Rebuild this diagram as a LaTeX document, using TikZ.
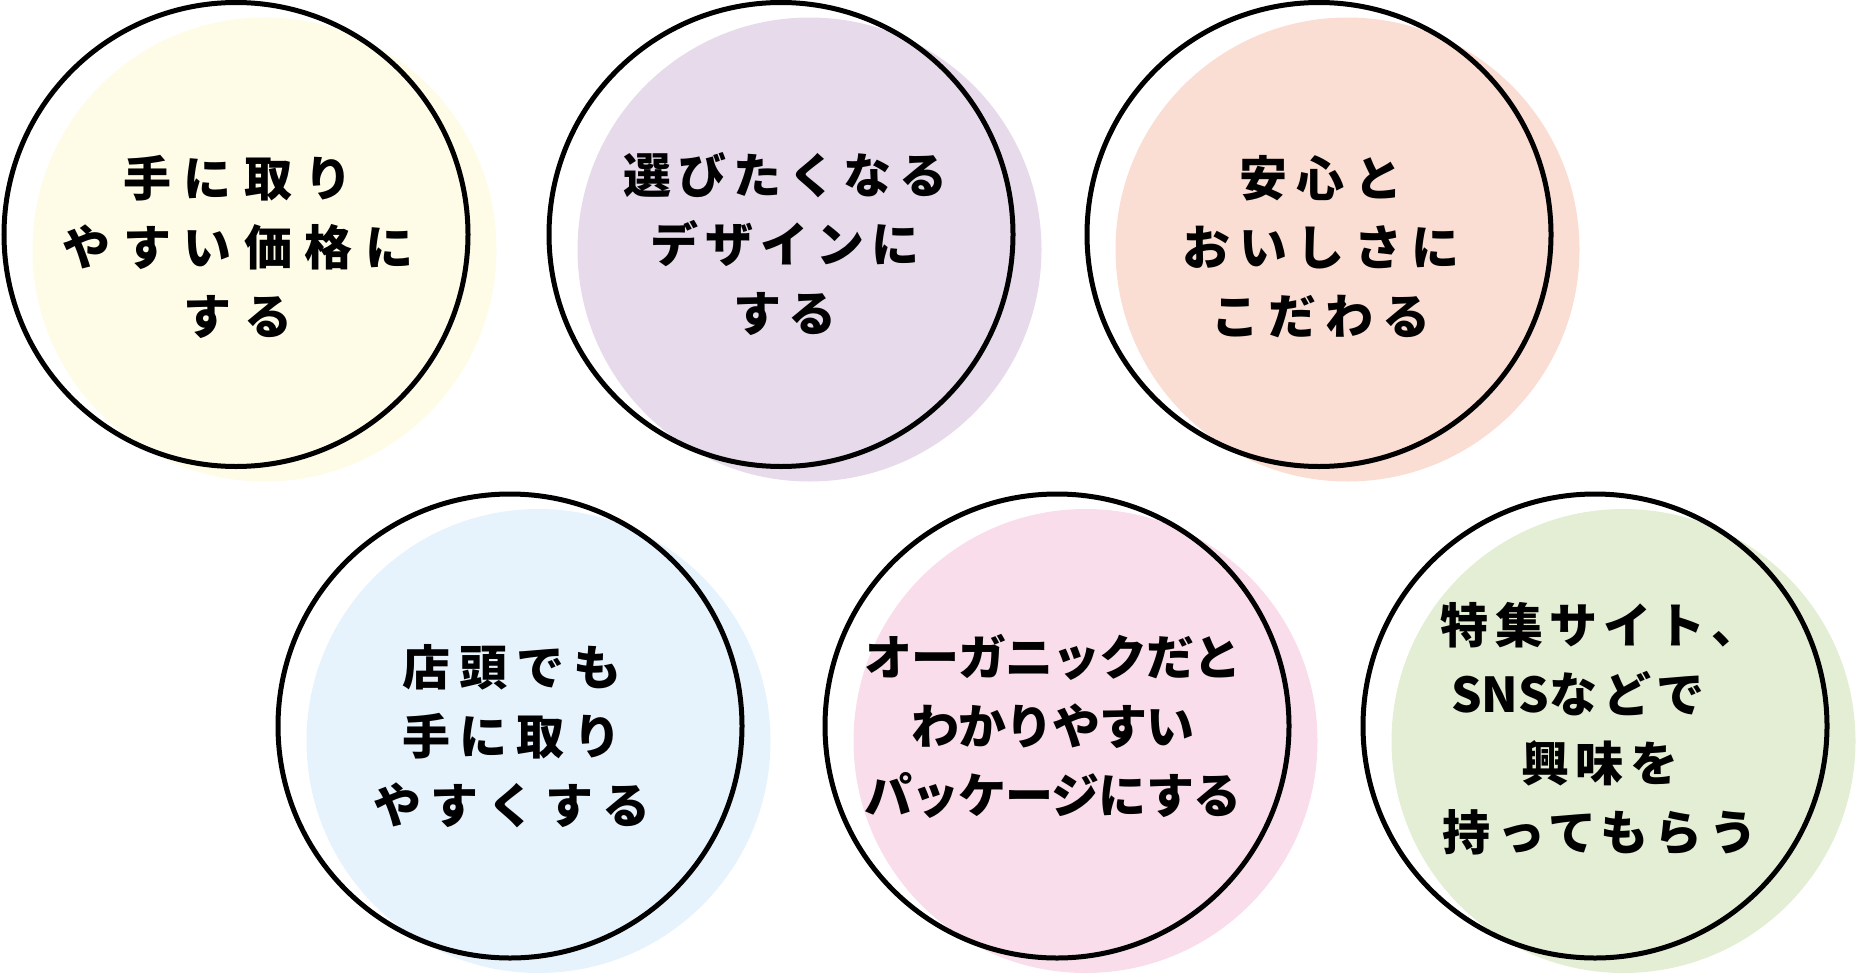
\documentclass[tikz,border=0pt]{standalone}
\usepackage{fontspec}
\usepackage[svgnames]{xcolor}
\usetikzlibrary{positioning, calc}
\newfontfamily\jpfont{Noto Sans CJK JP}

\definecolor{discYellow}{HTML}{FEFBE6}
\definecolor{discLilac}{HTML}{E6DAEB}
\definecolor{discPeach}{HTML}{FADDD3}
\definecolor{discBlue}{HTML}{E6F3FC}
\definecolor{discPink}{HTML}{F9DDEA}
\definecolor{discGreen}{HTML}{E3EED5}

\def\rad{232pt}

\tikzset{
    ring/.style={black, line width=5pt},
    lbl/.style={font=\jpfont\bfseries\fontsize{48}{69}\selectfont\addfontfeatures{LetterSpace=#1},
        align=center, inner sep=0pt}
}

\begin{document}
\begin{tikzpicture}[x=1pt, y=-1pt]
    \useasboundingbox (0,0) rectangle (1856,974);

    % centres of the rings
    \coordinate (c1) at (236,234.5);
    \coordinate (c2) at (781,234.5);
    \coordinate (c3) at (1319,234.5);
    \coordinate (c4) at (510,726);
    \coordinate (c5) at (1057,726);
    \coordinate (c6) at (1595,726);

    % coloured discs, shifted right and down
    \foreach \c/\co in {c1/discYellow, c2/discLilac, c3/discPeach,
                        c4/discBlue, c5/discPink, c6/discGreen}
    {
        \fill[\co] ($(\c)+(28.5,15)$) circle (\rad);
    }

    % rings
    \foreach \c in {c1, c2, c3, c4, c5, c6}
    {
        \draw[ring] (\c) circle (\rad);
    }

    % labels
    \foreach \c/\i/\dx/\dy/\trk/\txt in {
        c1/1/2/12/26/{手に取り\\やすい価格に\\する},
        c2/2/4/10/15/{選びたくなる\\デザインに\\する},
        c3/3/2/12/19/{安心と\\おいしさに\\こだわる},
        c4/4/2/10/19/{店頭でも\\手に取り\\やすくする},
        c5/5/-4/0/-2/{オーガニックだと\\わかりやすい\\パッケージにする},
        c6/6/5/3/13/{特集サイト、\\{\addfontfeatures{LetterSpace=0}SNS}などで\hbox to 44pt{}\\興味を\\持ってもらう}}
    {
        \node[lbl/.expanded=\trk] (t\i) at ($(\c)+(\dx,\dy)$) {\txt};
    }
\end{tikzpicture}
\end{document}
